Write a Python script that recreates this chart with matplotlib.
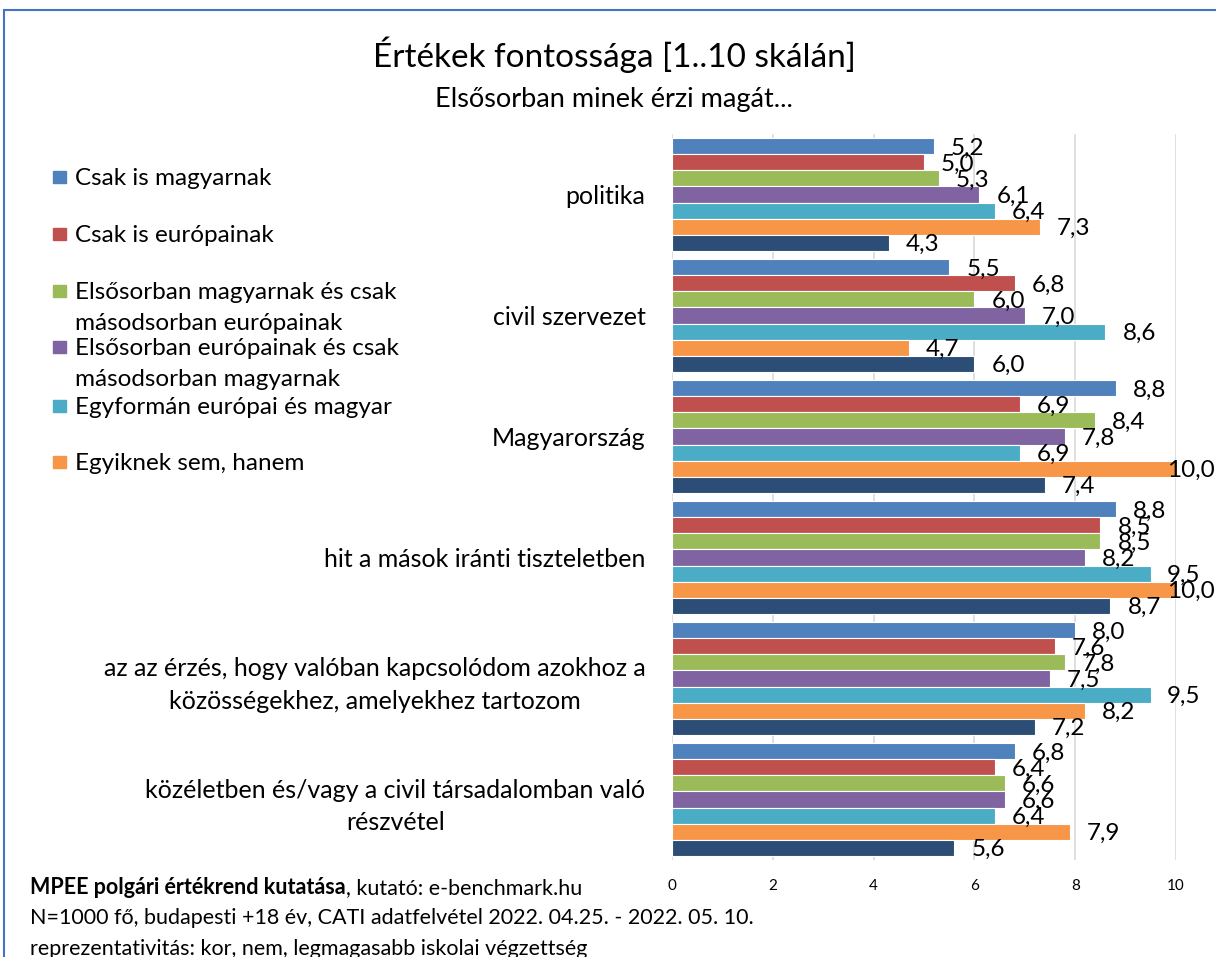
import numpy as np
import matplotlib.pyplot as plt
from matplotlib.patches import Rectangle

plt.rcParams['font.family'] = ['Lato', 'DejaVu Sans']

categories = ['politika',
              'civil szervezet',
              'Magyarország',
              'hit a mások iránti tiszteletben',
              'az az érzés, hogy valóban kapcsolódom azokhoz a\nközösségekhez, amelyekhez tartozom',
              'közéletben és/vagy a civil társadalomban való\nrészvétel']

series_names = ['Csak is magyarnak',
                'Csak is európainak',
                'Elsősorban magyarnak és csak\nmásodsorban európainak',
                'Elsősorban európainak és csak\nmásodsorban magyarnak',
                'Egyformán európai és magyar',
                'Egyiknek sem, hanem',
                '']

colors = ['#4F81BD', '#C0504D', '#9BBB59', '#8064A2', '#4BACC6', '#F79646', '#2C4D75']

# rows = categories, columns = series
values = np.array([
    [5.2, 5.0, 5.3, 6.1, 6.4, 7.3, 4.3],
    [5.5, 6.8, 6.0, 7.0, 8.6, 4.7, 6.0],
    [8.8, 6.9, 8.4, 7.8, 6.9, 10.0, 7.4],
    [8.8, 8.5, 8.5, 8.2, 9.5, 10.0, 8.7],
    [8.0, 7.6, 7.8, 7.5, 9.5, 8.2, 7.2],
    [6.8, 6.4, 6.6, 6.6, 6.4, 7.9, 5.6],
])

xticks = [0, 2, 4, 6, 8, 10]

W, H = 1216, 957
AX_L, AX_R = 672, 1176
fig = plt.figure(figsize=(W / 100, H / 100), dpi=100)
ax = fig.add_axes([AX_L / W, 1 - 860 / H, (AX_R - AX_L) / W, (860 - 134) / H])

n_cat, n_ser = values.shape
pitch = 0.1326
ypos = np.arange(n_cat)
px_per_unit = (AX_R - AX_L) / 10.0
for j in range(n_ser):
    y = ypos - pitch * (n_ser - 1) / 2 + j * pitch
    ax.barh(y, values[:, j], height=pitch, color=colors[j],
            edgecolor='white', linewidth=0.8, zorder=3)
    for yy, v in zip(y, values[:, j]):
        # labels sit ~17px right of the bar end, but never past the chart edge
        off_px = min(17, (1167 - AX_L) - v * px_per_unit)
        ax.annotate('{:.1f}'.format(v).replace('.', ','), xy=(v, yy),
                    xytext=(off_px * 0.72, -1.5), textcoords='offset points',
                    ha='left', va='center', fontsize=17.5, color='black',
                    annotation_clip=False, zorder=4)

ax.set_xlim(0, 10)
ax.set_ylim(n_cat - 0.5, -0.5)
ax.set_xticks(xticks)
ax.set_xticklabels([str(t) for t in xticks], fontsize=11)
ax.set_yticks(ypos)
ax.set_yticklabels(categories, fontsize=18, linespacing=1.5)
for lab in ax.get_yticklabels():
    lab.set_multialignment('center')
ax.tick_params(axis='x', length=0, pad=14)
ax.tick_params(axis='y', length=0, pad=19)
ax.grid(axis='x', color='#d9d9d9', linewidth=1.2, zorder=0)
for s in ax.spines.values():
    s.set_visible(False)

# title block
fig.text(614 / W, 1 - 55 / H, 'Értékek fontossága [1..10 skálán]',
         ha='center', va='center', fontsize=24)
fig.text(614 / W, 1 - 100 / H, 'Elsősorban minek érzi magát...',
         ha='center', va='center', fontsize=19.5)

# legend drawn at left (no entry for the last, dark series)
leg_y = [177, 234, 291, 347, 406, 462]
for name, c, ly in zip(series_names[:6], colors[:6], leg_y):
    fig.patches.append(Rectangle((53 / W, 1 - (ly + 6) / H), 13 / W, 12 / H,
                                 transform=fig.transFigure, color=c))
    fig.text(75 / W, 1 - (ly - 9) / H, name, ha='left', va='top',
             fontsize=17.5, linespacing=1.6)

# footer
t1 = fig.text(30 / W, 1 - 888 / H, 'MPEE polgári értékrend kutatása',
              ha='left', va='center', fontsize=15.5, fontweight='bold')
plt.annotate(', kutató: e-benchmark.hu', xy=(1, 0), xycoords=t1,
             ha='left', va='bottom', fontsize=15.5)
fig.text(30 / W, 1 - 918 / H,
         'N=1000 fő, budapesti +18 év, CATI adatfelvétel 2022. 04.25. - 2022. 05. 10.',
         ha='left', va='center', fontsize=15.5)
fig.text(30 / W, 1 - 949 / H,
         'reprezentativitás: kor, nem, legmagasabb iskolai végzettség',
         ha='left', va='center', fontsize=15.5)

# chart border (only top and left edges fall inside the picture)
fig.patches.append(Rectangle((4 / W, -0.1), 1.2, (1 - 10 / H) + 0.1,
                             transform=fig.transFigure, fill=False,
                             edgecolor='#4472C4', linewidth=1.5))

fig.savefig('out.png', dpi=100)
